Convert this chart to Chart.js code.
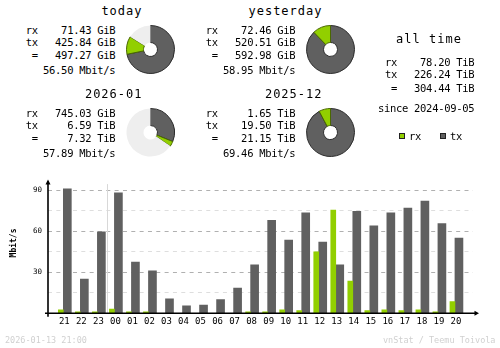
<!DOCTYPE html>
<html>
<head>
<meta charset="utf-8">
<script src="https://cdn.jsdelivr.net/npm/chart.js@4"></script>
<style>
body { margin: 0; background: #fff; }
#page { position: relative; width: 500px; height: 348px; overflow: hidden;
        font-family: "DejaVu Sans Mono", monospace; color: #000; }
.t { position: absolute; white-space: pre; line-height: 20px; }
.pie { position: absolute; }
.key { position: absolute; width: 4px; height: 4px; border: 1px solid #222; }
#hourly { position: absolute; left: 0; top: 170px; }
</style>
</head>
<body>
<div id="page">
    <canvas id="hourly" width="500" height="178"></canvas>
</div>
<script>

// ---------------- data ----------------
const periods = ["today", "yesterday", "2026-01", "2025-12"];
const periodRx = ["71.43 GiB", "72.46 GiB", "745.03 GiB", "1.65 TiB"];
const periodTx = ["425.84 GiB", "520.51 GiB", "6.59 TiB", "19.50 TiB"];
const periodTotal = ["497.27 GiB", "592.98 GiB", "7.32 TiB", "21.15 TiB"];
const periodRate = ["56.50 Mbit/s", "58.95 Mbit/s", "57.89 Mbit/s", "69.46 Mbit/s"];

const allTime = ["78.20 TiB", "226.24 TiB", "304.44 TiB"];
const since = "2024-09-05";

const hours = ["21","22","23","00","01","02","03","04","05","06","07","08",
               "09","10","11","12","13","14","15","16","17","18","19","20"];
const hourRx = [2.5, 1, 1, 3, 1, 1, 0, 0, 0, 0, 0, 1, 1, 2.5, 2, 45, 75.5, 23.5, 2, 2.5, 2, 2.5, 1, 8.5];
const hourTx = [91, 25, 59.5, 88, 37.5, 31, 10.5, 5.5, 6, 10, 18.5, 35.5, 68, 53.5, 73.5, 52, 35.5, 74.5, 64, 73.5, 77, 82, 65.5, 55];
const yTicks = [0, 15, 30, 45, 60, 75, 90];
const yUnit = "Mbit/s";

const stamp = "2026-01-13 21:00";
const credit = "vnStat / Teemu Toivola";

const RX = "#92cf00";
const TX = "#606060";
const RX_W = 5;
const TX_W = 8;

const page = document.getElementById("page");

Chart.defaults.font.family = "'DejaVu Sans Mono', monospace";
Chart.defaults.color = "#000";


// ======================================
// TEXT
// ======================================

function put(text, x, y, size, align, extra){

    const el = document.createElement("div");
    el.className = "t";
    el.textContent = text;
    el.style.fontSize = size + "px";
    el.style.top = (y - 10) + "px";

    if(align === "right"){
        el.style.left = (x - 300) + "px";
        el.style.width = "300px";
        el.style.textAlign = "right";
    } else if(align === "center"){
        el.style.left = (x - 150) + "px";
        el.style.width = "300px";
        el.style.textAlign = "center";
    } else {
        el.style.left = x + "px";
    }

    Object.assign(el.style, extra || {});
    page.appendChild(el);

}

const body = {letterSpacing: "-0.3px"};
const head = {letterSpacing: "1px"};

function toGiB(s){
    const [n, unit] = s.split(" ");
    return parseFloat(n) * (unit === "TiB" ? 1024 : 1);
}


// ======================================
// PERIOD BLOCKS + PIES
// ======================================

const colX = [0, 180];
const rowY = [0, 83.3];

periods.forEach((name, i)=>{

    const dx = colX[i % 2];
    const dy = rowY[Math.floor(i / 2)];

    put(name, 142.5 + dx, 10.5 + dy, 12, "right", head);

    put("rx", 25.7 + dx, 29.5 + dy, 10.5, "left", body);
    put("tx", 25.7 + dx, 41.5 + dy, 10.5, "left", body);
    put(" =", 25.7 + dx, 54.5 + dy, 10.5, "left", body);

    put(periodRx[i], 115.3 + dx, 29.5 + dy, 10.5, "right", body);
    put(periodTx[i], 115.3 + dx, 41.5 + dy, 10.5, "right", body);
    put(periodTotal[i], 115.3 + dx, 54.5 + dy, 10.5, "right", body);
    put(periodRate[i], 115.3 + dx, 69.5 + dy, 10.5, "right", body);

    // pie is filled relative to the larger of the pair (today/yesterday, month/previous)
    const pair = i - (i % 2);
    const full = Math.max(toGiB(periodTotal[pair]), toGiB(periodTotal[pair + 1]));
    const rest = Math.max(full - toGiB(periodTotal[i]), 0);

    const c = document.createElement("canvas");
    c.className = "pie";
    c.width = 49;
    c.height = 49;
    c.style.left = (126 + dx) + "px";
    c.style.top = (25 + dy) + "px";
    page.appendChild(c);

    new Chart(c, {
        type: "doughnut",
        data: {
            labels: ["tx", "rx", ""],
            datasets: [{
                data: [toGiB(periodTx[i]), toGiB(periodRx[i]), rest],
                backgroundColor: [TX, RX, "#eeeeee"],
                borderColor: ["#2c2c2c", "#4a6800", "#eeeeee"],
                borderWidth: [1, 1, 0]
            }]
        },
        options: {
            responsive: false,
            animation: false,
            events: [],
            cutout: 7,
            plugins: { legend: {display: false}, tooltip: {enabled: false} }
        }
    });

});


// ---------------- all time ----------------
put("all time", 429, 38.5, 12, "center", head);
put("rx", 385, 62, 10.5, "left", body);
put("tx", 385, 74, 10.5, "left", body);
put(" =", 385, 88, 10.5, "left", body);
allTime.forEach((v, i)=>{
    put(v, 474.3, [62, 74, 88][i], 10.5, "right", body);
});
put("since " + since, 474.3, 108.3, 10.5, "right", body);

// legend
[["rx", RX, 399], ["tx", TX, 440]].forEach(([label, color, x])=>{
    const k = document.createElement("div");
    k.className = "key";
    k.style.left = x + "px";
    k.style.top = "133px";
    k.style.background = color;
    page.appendChild(k);
    put(label, x + 10, 135.5, 10.5, "left", body);
});

// footer
put(stamp, 5, 339.5, 8.5, "left", {color: "#d0d0d0"});
put(credit, 495.5, 339.5, 8.5, "right", {color: "#d0d0d0"});


// ======================================
// HOURLY CHART
// ======================================

const axesPlugin = {

    id: "axes",

    beforeDatasetsDraw(chart){
        // day change separator
        const {ctx, chartArea: a, scales: {x, y}} = chart;
        const i = hours.indexOf("00");
        const sx = Math.round((x.getPixelForValue(i - 1) + TX_W + x.getPixelForValue(i) - RX_W) / 2) + 0.5;
        ctx.save();
        ctx.strokeStyle = "#d8d8d8";
        ctx.lineWidth = 1;
        ctx.beginPath();
        ctx.moveTo(sx, a.top + 3.5);
        ctx.lineTo(sx, y.getPixelForValue(0));
        ctx.stroke();
        ctx.restore();
    },

    afterDatasetsDraw(chart){
        const {ctx, chartArea: a, scales: {y}} = chart;
        const y0 = y.getPixelForValue(0);
        ctx.save();
        ctx.strokeStyle = "#000";
        ctx.fillStyle = "#000";
        ctx.lineWidth = 1.6;
        ctx.beginPath();
        ctx.moveTo(a.left, a.top + 1);
        ctx.lineTo(a.left, y0 + 3.5);
        ctx.moveTo(a.left - 3, y0);
        ctx.lineTo(a.right + 4, y0);
        ctx.stroke();

        ctx.beginPath();
        ctx.moveTo(a.left, a.top - 1);
        ctx.lineTo(a.left - 2.5, a.top + 4);
        ctx.lineTo(a.left + 2.5, a.top + 4);
        ctx.closePath();
        ctx.fill();

        ctx.beginPath();
        ctx.moveTo(a.right + 6, y0);
        ctx.lineTo(a.right + 1.5, y0 - 2.5);
        ctx.lineTo(a.right + 1.5, y0 + 2.5);
        ctx.closePath();
        ctx.fill();

        // unit label, rotated, beside the y ticks
        ctx.translate(14.3, (a.top + y0) / 2 - 4);
        ctx.rotate(-Math.PI / 2);
        ctx.font = "bold 8px 'DejaVu Sans Mono', monospace";
        ctx.textAlign = "center";
        ctx.textBaseline = "middle";
        ctx.fillText(yUnit, 0, 0);
        ctx.restore();
    }

};

new Chart(document.getElementById("hourly"), {

    type: "bar",

    data: {
        datasets: [
            {
                label: "rx",
                data: hourRx.map((v, i)=>({x: i, y: v})),
                backgroundColor: RX,
                barThickness: RX_W
            },
            {
                label: "tx",
                data: hourTx.map((v, i)=>({x: i, y: v})),
                backgroundColor: TX,
                barThickness: TX_W
            }
        ]
    },

    options: {
        responsive: false,
        animation: false,
        events: [],
        layout: { padding: {top: 10.6, right: 27, left: 0, bottom: 0} },
        plugins: { legend: {display: false}, tooltip: {enabled: false} },
        scales: {
            x: {
                type: "linear",
                min: -0.9,
                max: 24.06,
                offset: false,
                afterBuildTicks: s => { s.ticks = hours.map((h, i)=>({value: i})); },
                afterFit: s => { s.height = 34.7; },
                grid: {display: false, drawTicks: false},
                border: {display: false},
                ticks: {
                    autoSkip: false,
                    maxRotation: 0,
                    minRotation: 0,
                    padding: 3,
                    labelOffset: 1,
                    font: {size: 9},
                    callback: v => hours[v]
                }
            },
            y: {
                min: 0,
                max: 97,
                afterBuildTicks: s => { s.ticks = yTicks.map(v=>({value: v})); },
                afterFit: s => { s.width = 48; },
                grid: {
                    drawTicks: false,
                    color: c => c.tick.value === 0 ? "rgba(0,0,0,0)"
                        : (c.tick.value % 30 === 0 ? "#b0b0b0" : "#dedede")
                },
                border: {display: false, dash: [4, 4.33]},
                ticks: {
                    autoSkip: false,
                    padding: 6,
                    font: {size: 7.5},
                    callback: v => (v > 0 && v % 30 === 0) ? v : ""
                }
            }
        }
    },

    plugins: [axesPlugin]

});

</script>
</body>
</html>
